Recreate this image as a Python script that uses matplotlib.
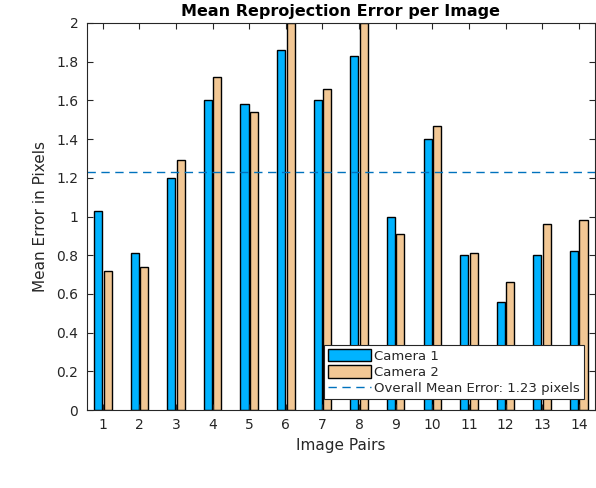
import numpy as np
import matplotlib
matplotlib.use("Agg")
import matplotlib.pyplot as plt

# values
pairs = np.arange(1, 15)
camera1 = [1.03, 0.81, 1.20, 1.60, 1.58, 1.86, 1.60, 1.83, 1.00, 1.40, 0.80, 0.56, 0.80, 0.82]
camera2 = [0.72, 0.74, 1.29, 1.72, 1.54, 2.00, 1.66, 2.00, 0.91, 1.47, 0.81, 0.66, 0.96, 0.98]
overall_mean = 1.23
yticks = [0, 0.2, 0.4, 0.6, 0.8, 1, 1.2, 1.4, 1.6, 1.8, 2]
ytick_labels = ["0", "0.2", "0.4", "0.6", "0.8", "1", "1.2", "1.4", "1.6", "1.8", "2"]

text_col = "#262626"
plt.rcParams["font.family"] = "DejaVu Sans"

W, H = 596, 488
fig = plt.figure(figsize=(W / 100, H / 100), dpi=100)
ax = fig.add_axes([86.7 / W, 1 - 410 / H, (594.5 - 86.7) / W, (410 - 23) / H])

bw = 0.22
off = 0.13
b1 = ax.bar(pairs - off, camera1, width=bw, color="#00b3ff", edgecolor="black",
            linewidth=1.0, label="Camera 1")
b2 = ax.bar(pairs + off, camera2, width=bw, color="#f2c794", edgecolor="black",
            linewidth=1.0, label="Camera 2")
ml = ax.axhline(overall_mean, color="#0072bd", linestyle=(0, (6, 4)), linewidth=1.0,
                label="Overall Mean Error: %.2f pixels" % overall_mean)

ax.set_xlim(0.56, 14.43)
ax.set_ylim(0, 2)
ax.set_xticks(pairs)
ax.set_yticks(yticks)
ax.set_yticklabels(ytick_labels)
ax.tick_params(direction="in", top=True, right=True, length=4, width=0.8,
               labelsize=10, colors=text_col, pad=6)
for sp in ax.spines.values():
    sp.set_color(text_col)
    sp.set_linewidth(0.8)

ax.set_title("Mean Reprojection Error per Image", fontsize=11.5, fontweight="bold",
             color="black", pad=5)
ax.set_xlabel("Image Pairs", fontsize=11, color=text_col, labelpad=4)
ax.set_ylabel("Mean Error in Pixels", fontsize=11, color=text_col, labelpad=6)

leg = ax.legend(handles=[b1, b2, ml], loc="lower right",
                bbox_to_anchor=(0.9785, 0.028), fontsize=9.5,
                frameon=True, fancybox=False, edgecolor=text_col, framealpha=1,
                borderpad=0.3, labelspacing=0.2, handlelength=3.3,
                handleheight=1.05, handletextpad=0.2, borderaxespad=0)
leg.get_frame().set_linewidth(0.8)
for t in leg.get_texts():
    t.set_color(text_col)

fig.savefig("out.png", dpi=100)
